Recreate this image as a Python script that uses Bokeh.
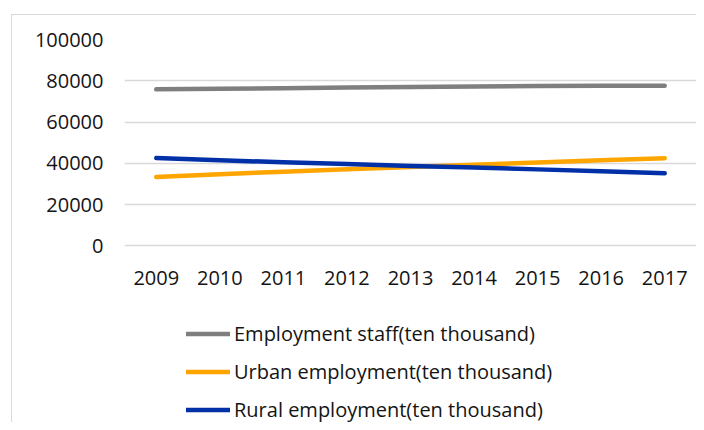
from bokeh.plotting import figure
from bokeh.models import Range1d, FixedTicker, Legend, LegendItem, ColumnDataSource
from bokeh.embed import file_html
from bokeh.resources import INLINE

years = ["2009", "2010", "2011", "2012", "2013", "2014", "2015", "2016", "2017"]
employment_staff = [75828, 76105, 76420, 76704, 76977, 77253, 77451, 77603, 77640]
urban_employment = [33322, 34687, 35914, 37102, 38240, 39310, 40410, 41428, 42462]
rural_employment = [42506, 41418, 40506, 39602, 38737, 37943, 37041, 36175, 35178]
y_ticks = [0, 20000, 40000, 60000, 80000, 100000]
y_tick_labels = ["0", "20000", "40000", "60000", "80000", "100000"]
series_names = ["Employment staff(ten thousand)", "Urban employment(ten thousand)",
                "Rural employment(ten thousand)"]
series_colors = ["#7f7f7f", "#ffa500", "#0030a8"]

FONT = "Open Sans"
TXT = "#141414"
FS = "20px"

# frame extends below the value axis to leave room for the x labels and the legend
p = figure(x_range=years, y_range=Range1d(-86150, 100000), width=685, height=408,
           output_backend="svg", toolbar_location=None,
           min_border_left=112, min_border_right=1, min_border_top=24, min_border_bottom=0)
p.margin = (14, 0, 0, 11)
p.styles = {"border-left": "1px solid #d9d9d9", "border-top": "1px solid #d9d9d9"}
p.outline_line_color = None
p.background_fill_color = "white"
p.border_fill_color = "white"

p.xgrid.grid_line_color = None
p.ygrid.grid_line_color = "#d9d9d9"
p.ygrid.grid_line_width = 1.3

p.yaxis.ticker = FixedTicker(ticks=y_ticks)
p.yaxis.major_label_overrides = {t: l for t, l in zip(y_ticks, y_tick_labels)}
p.xaxis.fixed_location = 0
for ax in (p.xaxis, p.yaxis):
    ax.axis_line_color = None
    ax.major_tick_line_color = None
    ax.minor_tick_line_color = None
    ax.major_tick_out = 0
    ax.major_tick_in = 0
    ax.major_label_text_font = FONT
    ax.major_label_text_font_size = FS
    ax.major_label_text_color = TXT
p.yaxis.major_label_standoff = 21
p.xaxis.major_label_standoff = 25

renderers = []
for vals, col in zip([employment_staff, urban_employment, rural_employment], series_colors):
    src = ColumnDataSource(dict(x=years, y=vals))
    r = p.line("x", "y", source=src, line_color=col, line_width=4.5, line_cap="round",
               line_join="round")
    renderers.append(r)

legend = Legend(items=[LegendItem(label=n, renderers=[r]) for n, r in zip(series_names, renderers)],
                location=(62, 0), orientation="vertical",
                label_text_font=FONT, label_text_font_size=FS, label_text_color=TXT,
                glyph_width=44, glyph_height=27, label_height=27, label_standoff=4,
                spacing=11, padding=0, margin=0, border_line_color=None,
                background_fill_alpha=0)
p.add_layout(legend, "center")

open("out.html", "w").write(file_html(p, INLINE))
